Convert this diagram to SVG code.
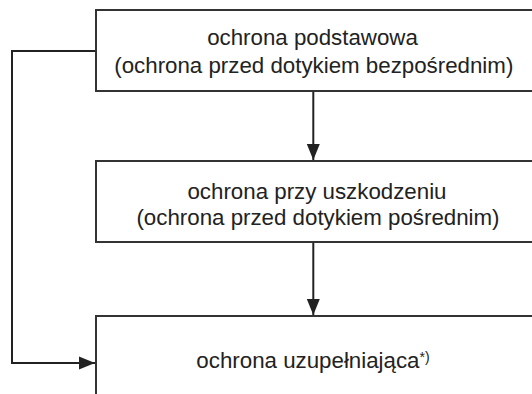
<svg xmlns="http://www.w3.org/2000/svg" width="532" height="394" viewBox="0 0 532 394">
<defs>
<style>
.box{fill:#fff;stroke:#333;stroke-width:2}
.t{font-family:"Liberation Sans",Arial,sans-serif;font-size:22.3px;fill:#222;text-anchor:middle}
.c{fill:none;stroke:#222;stroke-width:2}
</style>
<marker id="ah" markerWidth="16" markerHeight="14" refX="16" refY="7" orient="auto" markerUnits="userSpaceOnUse">
<path d="M0,0.5 L16,7 L0,13.5 Z" fill="#222"/>
</marker>
</defs>
<rect width="532" height="394" fill="#fff"/>
<g id="connectors">
<path class="c" d="M313.3,91 V160" marker-end="url(#ah)"/>
<path class="c" d="M313.3,242 V315" marker-end="url(#ah)"/>
<path class="c" d="M96,51 H12 V363 H95" marker-end="url(#ah)"/>
</g>
<g id="node1">
<rect class="box" x="96" y="10" width="450" height="81"/>
<text class="t" x="312.5" y="45">ochrona podstawowa</text>
<text class="t" x="313.8" y="72.5">(ochrona przed dotykiem bezpośrednim)</text>
</g>
<g id="node2">
<rect class="box" x="96" y="161" width="450" height="81"/>
<text class="t" x="317" y="199">ochrona przy uszkodzeniu</text>
<text class="t" x="318" y="225">(ochrona przed dotykiem pośrednim)</text>
</g>
<g id="node3">
<rect class="box" x="96" y="316" width="450" height="90"/>
<text class="t" x="313" y="368">ochrona uzupełniająca<tspan font-size="14" dy="-6">*)</tspan></text>
</g>
</svg>
